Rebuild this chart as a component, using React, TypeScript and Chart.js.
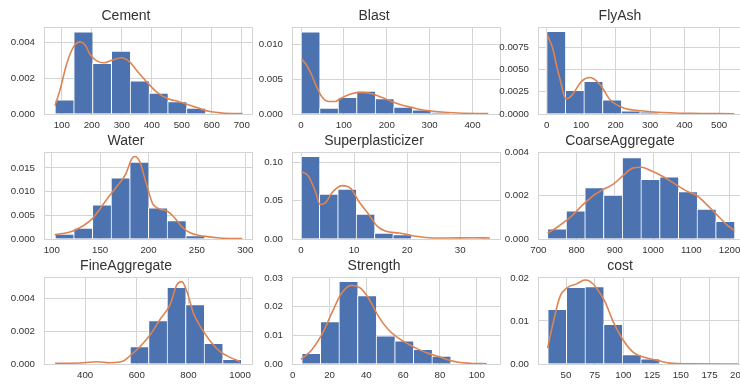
import { useEffect, useRef } from 'react';
import { Chart, registerables } from 'chart.js';

Chart.register(...registerables);

// ---------- data ----------
const titles = ['Cement', 'Blast', 'FlyAsh', 'Water', 'Superplasticizer', 'CoarseAggregate', 'FineAggregate', 'Strength', 'cost'];

// Cement
const cementEdges = [77.5, 140.1, 202.7, 265.3, 327.9, 390.5, 453.1, 515.7, 578.3];
const cementHeights = [0.0008, 0.0046, 0.00283, 0.00352, 0.00185, 0.00117, 0.00069, 0.00033];
const cementKdeX = [77.5, 94.4, 116.9, 139.4, 161.9, 178.8, 195.7, 218.2, 240.8, 268.9, 299.3, 325.2, 353.4, 387.2, 421, 454.7, 488.5, 522.3, 556.1, 589.9, 634.9, 702.5];
const cementKdeY = [0.00046, 0.00135, 0.00283, 0.00376, 0.00404, 0.00385, 0.0033, 0.00296, 0.00287, 0.00302, 0.00315, 0.00293, 0.00237, 0.00172, 0.00117, 0.00085, 0.0007, 0.00052, 0.00033, 0.00015, 0.00006, 0.00002];
const cementXTicks = [100, 200, 300, 400, 500, 600, 700];
const cementYTicks = [0, 0.002, 0.004];

// Blast
const blastEdges = [0, 43.2, 86.4, 129.6, 172.8, 216, 259.2, 302.4, 345.6];
const blastHeights = [0.0118, 0.00086, 0.0024, 0.0033, 0.0022, 0.001, 0.0006, 0.0002];
const blastKdeX = [1.6, 13.2, 24.9, 36.5, 48.2, 63.7, 79.3, 94.8, 118, 141.4, 164.7, 188, 211.3, 234.6, 258, 281.3, 320, 366.7, 436.7];
const blastKdeY = [0.0079, 0.007, 0.0056, 0.0039, 0.0025, 0.0018, 0.0018, 0.0023, 0.0029, 0.0031, 0.0029, 0.0024, 0.0018, 0.0013, 0.00095, 0.0006, 0.00033, 0.00014, 0.00005];
const blastXTicks = [0, 100, 200, 300, 400];
const blastYTicks = [0, 0.005, 0.01];

// FlyAsh
const flyEdges = [0, 54, 108, 162, 216, 270, 324];
const flyHeights = [0.0093, 0.00266, 0.00367, 0.0016, 0.00037, 0.00022];
const flyKdeX = [3, 19, 29, 39, 56, 73, 102, 126, 155, 184, 223, 272, 320, 417, 544];
const flyKdeY = [0.0088, 0.0072, 0.0054, 0.0039, 0.0017, 0.0021, 0.0037, 0.0041, 0.0033, 0.0016, 0.00067, 0.00037, 0.0002, 0.00007, 0.00003];
const flyXTicks = [0, 100, 200, 300, 400, 500];
const flyYTicks = [0, 0.0025, 0.005, 0.0075];

// Water
const waterEdges = [103.4, 122.7, 142, 161.3, 180.6, 199.9, 219.2, 238.5, 257.8];
const waterHeights = [0.00105, 0.0023, 0.0072, 0.0129, 0.0162, 0.0066, 0.0039, 0.0007];
const waterKdeX = [103, 122, 142, 157, 167, 176, 183, 186, 191, 198, 205, 219, 226, 234, 243, 257, 274, 297];
const waterKdeY = [0.0009, 0.0017, 0.0043, 0.0084, 0.011, 0.0135, 0.017, 0.0174, 0.0163, 0.0115, 0.0072, 0.0059, 0.0047, 0.0027, 0.0013, 0.0006, 0.0002, 0.00007];
const waterXTicks = [100, 150, 200, 250, 300];
const waterYTicks = [0, 0.005, 0.01, 0.015];

// Superplasticizer
const superEdges = [0, 3.46, 6.92, 10.38, 13.84, 17.3, 20.76];
const superHeights = [0.1078, 0.0587, 0.0652, 0.0326, 0.0078, 0.0057];
const superKdeX = [0.1, 1.4, 2.7, 3.6, 4.6, 5.8, 7.7, 9.3, 10.9, 12.8, 14.4, 16, 18.5, 21, 23.5, 27.3, 32.4, 35.6];
const superKdeY = [0.088, 0.082, 0.062, 0.045, 0.047, 0.06, 0.0696, 0.0665, 0.049, 0.0317, 0.0165, 0.01, 0.0078, 0.0043, 0.002, 0.0013, 0.0017, 0.0013];
const superXTicks = [0, 10, 20, 30];
const superYTicks = [0, 0.05, 0.1];

// CoarseAggregate
const coarseEdges = [723.6, 772.5, 821.4, 870.3, 919.2, 968.1, 1017, 1065.9, 1114.8, 1163.7, 1212.6];
const coarseHeights = [0.00047, 0.0013, 0.00236, 0.00202, 0.00374, 0.00274, 0.00286, 0.00218, 0.00137, 0.00081];
const coarseKdeX = [724, 748, 783, 818, 844, 870, 896, 923, 948, 970, 992, 1027, 1062, 1088, 1114, 1141, 1167, 1193, 1213];
const coarseKdeY = [0.00027, 0.00053, 0.00099, 0.0016, 0.002, 0.00228, 0.00252, 0.00294, 0.00327, 0.0033, 0.00316, 0.00286, 0.00248, 0.0022, 0.002, 0.00157, 0.00111, 0.00065, 0.00038];
const coarseXTicks = [700, 800, 900, 1000, 1100, 1200];
const coarseYTicks = [0, 0.002, 0.004];

// FineAggregate
const fineEdges = [574, 645.6, 717.2, 788.8, 860.4, 932, 1003.6];
const fineHeights = [0.00106, 0.00264, 0.00465, 0.0036, 0.00126, 0.00028];
const fineKdeX = [284, 394, 445, 497, 548, 574, 613, 652, 690, 729, 755, 774, 794, 819, 845, 884, 923, 961, 1000];
const fineKdeY = [0.00004, 0.00008, 0.00014, 0.00008, 0.00018, 0.0005, 0.00106, 0.00177, 0.0027, 0.0036, 0.0048, 0.005, 0.0044, 0.0031, 0.0023, 0.0014, 0.00075, 0.0004, 0.00014];
const fineXTicks = [400, 600, 800, 1000];
const fineYTicks = [0, 0.002, 0.004];

// Strength
const strengthEdges = [4.9, 15, 25.1, 35.2, 45.3, 55.4, 65.5, 75.6, 85.7];
const strengthHeights = [0.0037, 0.0148, 0.0288, 0.0238, 0.0098, 0.0081, 0.0051, 0.0028];
const strengthKdeX = [4.5, 10.3, 15.8, 21.2, 26.6, 32, 36.6, 41.1, 46.6, 52, 57.4, 62.9, 68.3, 73.7, 79.2, 84.6, 90, 97.3, 105.4];
const strengthKdeY = [0.0016, 0.0049, 0.0102, 0.0177, 0.0247, 0.0274, 0.0265, 0.023, 0.0166, 0.0119, 0.009, 0.0069, 0.0051, 0.0037, 0.0026, 0.0014, 0.0006, 0.0002, 0.0001];
const strengthXTicks = [0, 20, 40, 60, 80, 100];
const strengthYTicks = [0, 0.01, 0.02, 0.03];

// cost
const costEdges = [34.1, 50.3, 66.5, 82.7, 98.9, 115.1, 131.3];
const costHeights = [0.0127, 0.0178, 0.018, 0.0092, 0.0022, 0.0012];
const costKdeX = [34, 39, 44.8, 50.6, 59.3, 66.5, 70.9, 76.7, 83.9, 91.2, 99.9, 108.6, 117.2, 128.8, 140.4, 157.8, 200];
const costKdeY = [0.0037, 0.0098, 0.0157, 0.0176, 0.0186, 0.0195, 0.0192, 0.0176, 0.0145, 0.0098, 0.0055, 0.0027, 0.0016, 0.0009, 0.0002, 0.00002, 0];
const costXTicks = [50, 75, 100, 125, 150, 175, 200];
const costYTicks = [0, 0.01, 0.02];

// ---------- styling / layout ----------
const BLUE = '#4C72B0';
const ORANGE = '#DD8452';
const GRID = '#d4d4d4';
const TEXT = '#333333';
const FONT = "'Liberation Sans', Arial, Helvetica, sans-serif";

const Y_AXIS_W = 44;
const TITLE_H = 27;
const X_AXIS_H = 22;
const PLOT_W = 208;
const PLOT_H = 87;
const RIGHT_PAD = 12;

type Panel = {
  title: string;
  edges: number[];
  heights: number[];
  kdeX: number[];
  kdeY: number[];
  xTicks: number[];
  yTicks: number[];
  xMin: number;
  xMax: number;
  yMax: number;
  yDec: number;
  left: number;
  top: number;
};

const panels: Panel[] = [
  { title: titles[0], edges: cementEdges, heights: cementHeights, kdeX: cementKdeX, kdeY: cementKdeY, xTicks: cementXTicks, yTicks: cementYTicks, xMin: 41, xMax: 734, yMax: 0.00487, yDec: 3, left: 44, top: 27 },
  { title: titles[1], edges: blastEdges, heights: blastHeights, kdeX: blastKdeX, kdeY: blastKdeY, xTicks: blastXTicks, yTicks: blastYTicks, xMin: -21, xMax: 464, yMax: 0.0125, yDec: 3, left: 292, top: 27 },
  { title: titles[2], edges: flyEdges, heights: flyHeights, kdeX: flyKdeX, kdeY: flyKdeY, xTicks: flyXTicks, yTicks: flyYTicks, xMin: -25, xMax: 578, yMax: 0.00978, yDec: 4, left: 538, top: 27 },
  { title: titles[3], edges: waterEdges, heights: waterHeights, kdeX: waterKdeX, kdeY: waterKdeY, xTicks: waterXTicks, yTicks: waterYTicks, xMin: 92, xMax: 307, yMax: 0.01835, yDec: 3, left: 44, top: 152 },
  { title: titles[4], edges: superEdges, heights: superHeights, kdeX: superKdeX, kdeY: superKdeY, xTicks: superXTicks, yTicks: superYTicks, xMin: -1.7, xMax: 37.5, yMax: 0.1135, yDec: 2, left: 292, top: 152 },
  { title: titles[5], edges: coarseEdges, heights: coarseHeights, kdeX: coarseKdeX, kdeY: coarseKdeY, xTicks: coarseXTicks, yTicks: coarseYTicks, xMin: 699, xMax: 1243, yMax: 0.004, yDec: 3, left: 538, top: 152 },
  { title: titles[6], edges: fineEdges, heights: fineHeights, kdeX: fineKdeX, kdeY: fineKdeY, xTicks: fineXTicks, yTicks: fineYTicks, xMin: 241, xMax: 1046, yMax: 0.00528, yDec: 3, left: 44, top: 277 },
  { title: titles[7], edges: strengthEdges, heights: strengthHeights, kdeX: strengthKdeX, kdeY: strengthKdeY, xTicks: strengthXTicks, yTicks: strengthYTicks, xMin: -0.4, xMax: 112.6, yMax: 0.0303, yDec: 2, left: 292, top: 277 },
  { title: titles[8], edges: costEdges, heights: costHeights, kdeX: costKdeX, kdeY: costKdeY, xTicks: costXTicks, yTicks: costYTicks, xMin: 25.6, xMax: 206.8, yMax: 0.0202, yDec: 2, left: 538, top: 277 },
];

function HistPanel({ p }: { p: Panel }) {
  const ref = useRef<HTMLCanvasElement>(null);
  const cw = Y_AXIS_W + PLOT_W + RIGHT_PAD;
  const ch = TITLE_H + PLOT_H + X_AXIS_H;

  useEffect(() => {
    const centers = p.heights.map((_, i) => (p.edges[i] + p.edges[i + 1]) / 2);
    const tickFont = { family: FONT, size: 9.7 };
    const chart = new Chart(ref.current as HTMLCanvasElement, {
      type: 'bar',
      data: {
        datasets: [
          {
            type: 'line',
            data: p.kdeX.map((x, i) => ({ x, y: p.kdeY[i] })),
            borderColor: ORANGE,
            borderWidth: 1.6,
            pointRadius: 0,
            cubicInterpolationMode: 'monotone',
            xAxisID: 'x',
            yAxisID: 'y',
            order: 0,
          } as any,
          {
            type: 'bar',
            data: centers.map((x, i) => ({ x, y: p.heights[i] })),
            backgroundColor: BLUE,
            borderColor: '#ffffff',
            borderWidth: { top: 1, left: 1, right: 0, bottom: 0 },
            borderSkipped: false,
            barPercentage: 1,
            categoryPercentage: 1,
            xAxisID: 'x',
            yAxisID: 'y',
            order: 1,
          } as any,
        ],
      },
      options: {
        animation: false,
        responsive: false,
        events: [],
        layout: { padding: { left: 0, right: RIGHT_PAD, top: 0, bottom: 0 } },
        plugins: {
          legend: { display: false },
          tooltip: { enabled: false },
          title: {
            display: true,
            text: p.title,
            color: TEXT,
            font: { family: FONT, size: 14, weight: 'normal' as any, lineHeight: 1.2 },
            padding: { top: 8, bottom: 2.2 },
          },
        },
        scales: {
          x: {
            type: 'linear',
            position: 'bottom',
            min: p.xMin,
            max: p.xMax,
            offset: false,
            afterBuildTicks: (s: any) => {
              s.ticks = p.xTicks.map((v) => ({ value: v }));
            },
            afterFit: (s: any) => {
              s.height = X_AXIS_H;
            },
            ticks: {
              color: TEXT,
              font: tickFont,
              padding: 6,
              maxRotation: 0,
              autoSkip: false,
              callback: (v: any) => String(v),
            },
            grid: { color: GRID, lineWidth: 1, drawTicks: false, offset: false },
            border: { color: GRID, width: 1 },
          },
          y: {
            type: 'linear',
            position: 'left',
            min: 0,
            max: p.yMax,
            afterBuildTicks: (s: any) => {
              s.ticks = p.yTicks.map((v) => ({ value: v }));
            },
            afterFit: (s: any) => {
              s.width = Y_AXIS_W;
            },
            ticks: {
              color: TEXT,
              font: tickFont,
              padding: 9,
              callback: (v: any) => Number(v).toFixed(p.yDec),
            },
            grid: { color: GRID, lineWidth: 1, drawTicks: false },
            border: { color: GRID, width: 1 },
          },
          xTop: {
            type: 'linear',
            position: 'top',
            display: true,
            ticks: { display: false },
            grid: { display: false, drawTicks: false },
            border: { display: true, color: GRID, width: 1 },
            afterFit: (s: any) => {
              s.height = 0;
            },
          },
          yRight: {
            type: 'linear',
            position: 'right',
            display: true,
            ticks: { display: false },
            grid: { display: false, drawTicks: false },
            border: { display: true, color: GRID, width: 1 },
            afterFit: (s: any) => {
              s.width = 0;
            },
          },
        } as any,
      },
    });
    return () => chart.destroy();
  }, [p]);

  return (
    <canvas
      ref={ref}
      width={cw}
      height={ch}
      style={{
        position: 'absolute',
        left: p.left - Y_AXIS_W,
        top: p.top - TITLE_H,
        width: cw,
        height: ch,
        display: 'block',
      }}
    />
  );
}

export default function App() {
  return (
    <div
      style={{
        position: 'absolute',
        left: 0,
        top: 0,
        width: 740,
        height: 387,
        overflow: 'hidden',
        background: '#ffffff',
      }}
    >
      {panels.map((p) => (
        <HistPanel key={p.title} p={p} />
      ))}
    </div>
  );
}
